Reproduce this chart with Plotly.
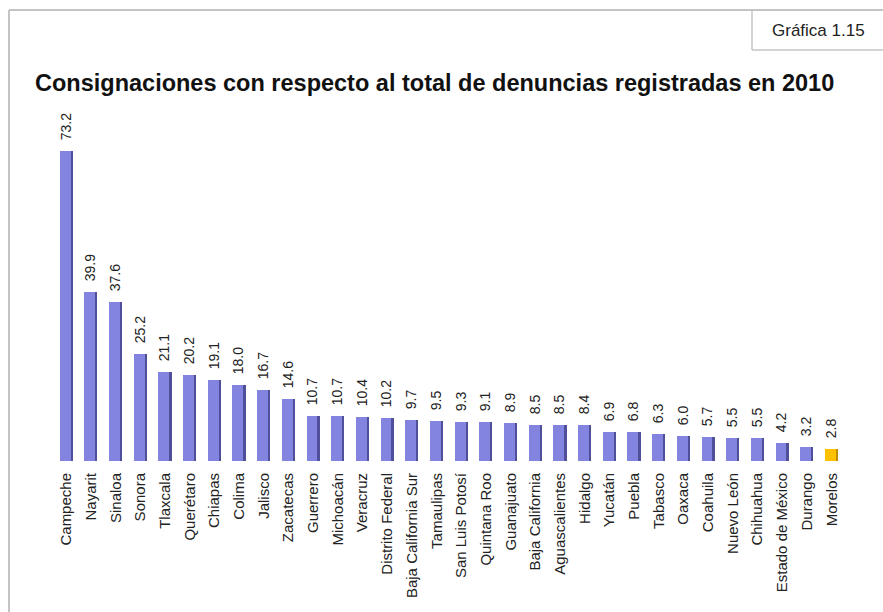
import plotly.graph_objects as go

estados = [
    "Campeche", "Nayarit", "Sinaloa", "Sonora", "Tlaxcala", "Querétaro",
    "Chiapas", "Colima", "Jalisco", "Zacatecas", "Guerrero", "Michoacán",
    "Veracruz", "Distrito Federal", "Baja California Sur", "Tamaulipas",
    "San Luis Potosí", "Quintana Roo", "Guanajuato", "Baja California",
    "Aguascalientes", "Hidalgo", "Yucatán", "Puebla", "Tabasco", "Oaxaca",
    "Coahuila", "Nuevo León", "Chihuahua", "Estado de México", "Durango",
    "Morelos",
]
consignaciones = [
    73.2, 39.9, 37.6, 25.2, 21.1, 20.2, 19.1, 18.0, 16.7, 14.6, 10.7, 10.7,
    10.4, 10.2, 9.7, 9.5, 9.3, 9.1, 8.9, 8.5, 8.5, 8.4, 6.9, 6.8, 6.3, 6.0,
    5.7, 5.5, 5.5, 4.2, 3.2, 2.8,
]
resaltado = "Morelos"

W, H = 883, 612
ML, MR, MT, MB = 54, 39, 100, 151
PW, PH = W - ML - MR, H - MT - MB


def px(x):
    return (x - ML) / PW


def py(y):
    return 1 - (y - MT) / PH


FONT = "Liberation Sans Narrow, Arial Narrow, Liberation Sans, Arial"

cara = ["#ffc000" if e == resaltado else "#8383e0" for e in estados]
lado = ["#c08c00" if e == resaltado else "#50509a" for e in estados]

fig = go.Figure()

# lateral oscuro para simular el efecto 3D
fig.add_trace(
    go.Bar(
        x=estados,
        y=consignaciones,
        width=0.46,
        offset=-0.2,
        marker=dict(color=lado, line_width=0),
        hoverinfo="skip",
        showlegend=False,
    )
)

# espacios duros al inicio para separar la etiqueta de la barra
fig.add_trace(
    go.Bar(
        x=estados,
        y=consignaciones,
        width=0.44,
        offset=-0.27,
        marker=dict(color=cara, line_width=0),
        text=[f"\u00a0\u00a0{v:.1f}" for v in consignaciones],
        textposition="outside",
        textangle=-90,
        constraintext="none",
        textfont=dict(family=FONT, size=14, color="#222222"),
        cliponaxis=False,
        showlegend=False,
    )
)

fig.update_layout(
    width=W,
    height=H,
    margin=dict(l=ML, r=MR, t=MT, b=MB, autoexpand=False),
    paper_bgcolor="white",
    plot_bgcolor="white",
    barmode="overlay",
    bargap=0,
    title=dict(
        text="<b>Consignaciones con respecto al total de denuncias registradas en 2010</b>",
        font=dict(family=FONT, size=23.5, color="#111111"),
        xref="container",
        x=35 / W,
        xanchor="left",
        yref="container",
        y=1 - 83 / H,
        yanchor="middle",
        automargin=False,
    ),
    xaxis=dict(
        tickangle=-90,
        tickfont=dict(family=FONT, size=15, color="#222222"),
        showgrid=False,
        showline=False,
        ticks="",
        ticklabelstandoff=8,
        automargin=False,
    ),
    yaxis=dict(
        range=[0, PH / 4.235],
        visible=False,
        showgrid=False,
        automargin=False,
    ),
    shapes=[
        dict(type="line", xref="paper", yref="paper",
             x0=px(9), x1=px(883), y0=py(10), y1=py(10),
             line=dict(color="#c4c4c4", width=2)),
        dict(type="line", xref="paper", yref="paper",
             x0=px(9), x1=px(9), y0=py(10), y1=py(612),
             line=dict(color="#c4c4c4", width=2)),
        dict(type="line", xref="paper", yref="paper",
             x0=px(752), x1=px(752), y0=py(10), y1=py(50),
             line=dict(color="#c4c4c4", width=1.5)),
        dict(type="line", xref="paper", yref="paper",
             x0=px(752), x1=px(883), y0=py(50), y1=py(50),
             line=dict(color="#c4c4c4", width=1.5)),
    ],
    annotations=[
        dict(
            text="Gráfica 1.15",
            xref="paper", yref="paper",
            x=px(818), y=py(30),
            xanchor="center", yanchor="middle",
            showarrow=False,
            font=dict(family=FONT, size=17, color="#222222"),
        )
    ],
)

fig.write_html(
    "out.html",
    config={"displayModeBar": False},
    post_script="document.body.style.margin='0';document.body.style.overflow='hidden';",
)
